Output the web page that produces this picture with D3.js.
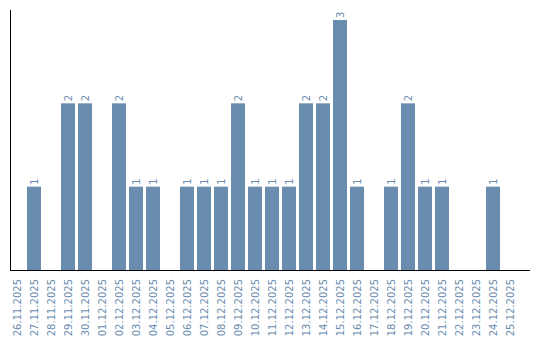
<!DOCTYPE html>
<html>
<head>
<meta charset="utf-8">
<script src="https://cdn.jsdelivr.net/npm/d3@7"></script>
<style>
  body { margin: 0; background: #fff; }
  text { font-family: "DejaVu Sans", Verdana, sans-serif; }
</style>
</head>
<body>
<svg></svg>
<script>
var width = 540;
var height = 340;

var dates = ['26.11.2025','27.11.2025','28.11.2025','29.11.2025','30.11.2025','01.12.2025',
  '02.12.2025','03.12.2025','04.12.2025','05.12.2025','06.12.2025','07.12.2025','08.12.2025',
  '09.12.2025','10.12.2025','11.12.2025','12.12.2025','13.12.2025','14.12.2025','15.12.2025',
  '16.12.2025','17.12.2025','18.12.2025','19.12.2025','20.12.2025','21.12.2025','22.12.2025',
  '23.12.2025','24.12.2025','25.12.2025'];
var counts = [0,1,0,2,2,0,2,1,1,0,1,1,1,2,1,1,1,2,2,3,1,0,1,2,1,1,0,0,1,0];

var barColor = '#6a8caf';

var svg = d3.select('svg')
  .attr('width', width)
  .attr('height', height);

var data = dates.map(function(d, i) { return {date: d, count: counts[i]}; });

var x = d3.scaleBand()
  .domain(dates)
  .range([10, 517])
  .paddingInner(3 / 17)
  .paddingOuter(0);

var y = d3.scaleLinear()
  .domain([0, 3])
  .range([270, 20]);

svg.append('g')
  .selectAll('rect')
  .data(data.filter(d => d.count > 0))
  .enter().append('rect')
    .attr('x', d => x(d.date))
    .attr('y', d => y(d.count))
    .attr('width', x.bandwidth())
    .attr('height', d => y(0) - y(d.count))
    .attr('fill', barColor);

// value labels
svg.append('g')
  .selectAll('text')
  .data(data.filter(d => d.count > 0))
  .enter().append('text')
    .attr('transform', d => 'translate(' + (x(d.date) + x.bandwidth() / 2 + 3.5) + ',' + (y(d.count) - 2) + ') rotate(-90)')
    .attr('font-size', 10)
    .attr('fill', barColor)
    .text(d => d.count);

// x labels
svg.append('g')
  .selectAll('text')
  .data(dates)
  .enter().append('text')
    .attr('transform', d => 'translate(' + (x(d) + x.bandwidth() / 2 + 3.5) + ',279) rotate(-90)')
    .attr('text-anchor', 'end')
    .attr('font-size', 10)
    .attr('fill', barColor)
    .text(d => d);

// axis lines
svg.append('line')
  .attr('x1', 10.5).attr('x2', 10.5)
  .attr('y1', 10).attr('y2', 270.5)
  .attr('stroke', '#000');
svg.append('line')
  .attr('x1', 10).attr('x2', 530)
  .attr('y1', 270.5).attr('y2', 270.5)
  .attr('stroke', '#000');
</script>
</body>
</html>
